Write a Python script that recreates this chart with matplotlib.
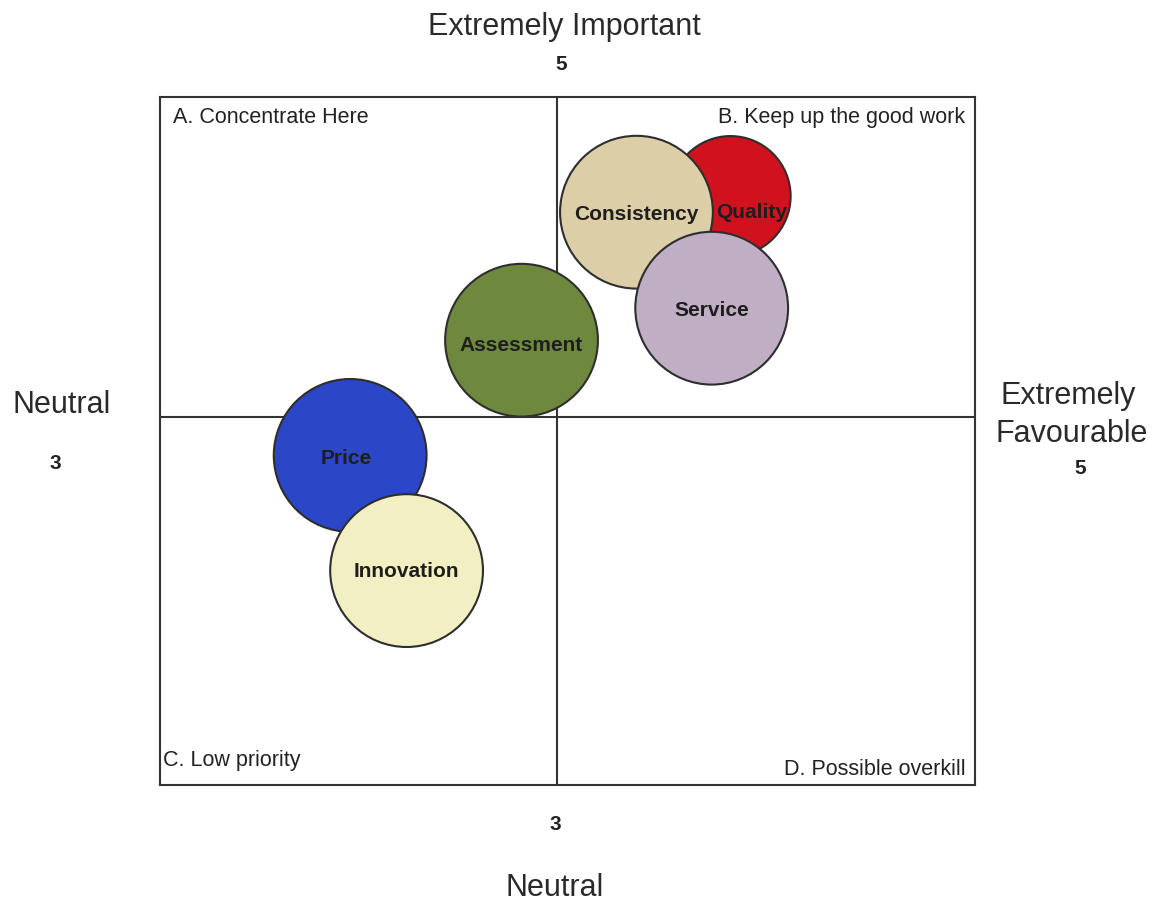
import matplotlib
matplotlib.use("Agg")
import matplotlib.pyplot as plt

plt.rcParams['font.family'] = ['Liberation Sans', 'DejaVu Sans']

# attributes: x = favourability, y = importance
attributes = ['Quality', 'Consistency', 'Service', 'Assessment', 'Price', 'Innovation']
favourability = [3.83, 3.38, 3.74, 2.83, 2.01, 2.28]
importance = [4.38, 4.28, 3.68, 3.48, 2.76, 2.04]
bubble_area = [7500, 12100, 12100, 12100, 12100, 12100]
bubble_colors = ['#d0121f', '#dccfa8', '#bfaec4', '#6e893e', '#2b46c6', '#f2f0c2']
# label nudges in points (dx, dy)
label_offsets = [(15, -12), (0, -2), (0, -2), (0, -4), (-3, -2), (0, -1)]

quadrant_labels = ['A. Concentrate Here', 'B. Keep up the good work',
                   'C. Low priority', 'D. Possible overkill']

x_lim = (1.1, 5.0)
y_lim = (0.7, 5.0)
mid = 3

W, H = 1167, 905
fig = plt.figure(figsize=(W / 100, H / 100), dpi=100)


def px(x, y):
    return x / W, 1 - y / H


ax = fig.add_axes([160 / W, 1 - 785 / H, 815 / W, 688 / H])
ax.set_xlim(*x_lim)
ax.set_ylim(*y_lim)
ax.set_xticks([])
ax.set_yticks([])
for sp in ax.spines.values():
    sp.set_linewidth(1.5)
    sp.set_color('#333333')

ax.axvline(mid, color='#333333', lw=1.5, zorder=1)
ax.axhline(mid, color='#333333', lw=1.5, zorder=1)

ax.scatter(favourability, importance, s=bubble_area, c=bubble_colors,
           edgecolors='#2e2e2e', linewidths=1.5, zorder=3)

for name, x, y, off in zip(attributes, favourability, importance, label_offsets):
    ax.annotate(name, (x, y), xytext=off, textcoords='offset points',
                ha='center', va='center', fontsize=15, fontweight='bold',
                color='#1e1e1e', zorder=5)

# quadrant captions
qkw = dict(fontsize=15.5, color='#222222', transform=ax.transAxes)
ax.text(0.016, 0.97, quadrant_labels[0], ha='left', va='center', **qkw)
ax.text(0.988, 0.97, quadrant_labels[1], ha='right', va='center', **qkw)
ax.text(0.004, 0.036, quadrant_labels[2], ha='left', va='center', **qkw)
ax.text(0.988, 0.022, quadrant_labels[3], ha='right', va='center', **qkw)

# axis end captions
tkw = dict(fontsize=22, color='#2a2a2a', ha='center', va='center')
nkw = dict(fontsize=15, fontweight='bold', color='#222222', ha='center', va='center')
fig.text(*px(564, 27), 'Extremely Important', **tkw)
fig.text(*px(561, 64), '5', **nkw)
fig.text(*px(62, 405), 'Neutral', **tkw)
fig.text(*px(55, 463), '3', **nkw)
fig.text(*px(1068, 396), 'Extremely', **tkw)
fig.text(*px(1072, 434), 'Favourable', **tkw)
fig.text(*px(1080, 468), '5', **nkw)
fig.text(*px(555, 824), '3', **nkw)
fig.text(*px(555, 888), 'Neutral', **tkw)

fig.savefig('out.png', dpi=100, facecolor='white')
